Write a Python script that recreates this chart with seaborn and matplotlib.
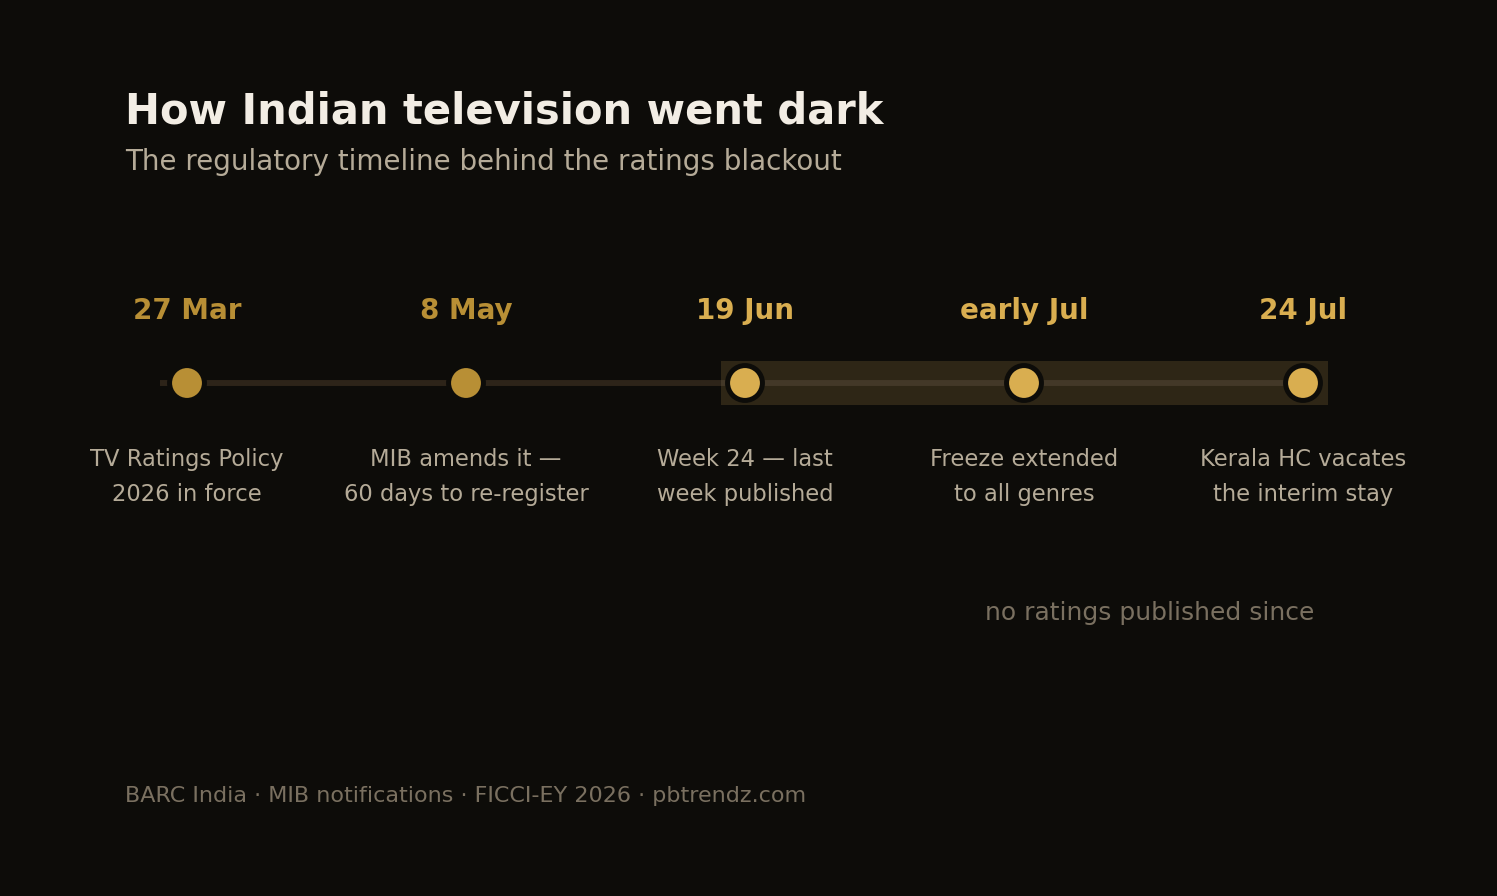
import matplotlib
matplotlib.use('Agg')
import matplotlib.pyplot as plt
import seaborn as sns
import pandas as pd

# %% Data
dates = ['27 Mar', '8 May', '19 Jun', 'early Jul', '24 Jul']
events = ['TV Ratings Policy\n2026 in force',
          'MIB amends it —\n60 days to re-register',
          'Week 24 — last\nweek published',
          'Freeze extended\nto all genres',
          'Kerala HC vacates\nthe interim stay']
phase = ['before', 'before', 'blackout', 'blackout', 'blackout']

df = pd.DataFrame({'pos': range(len(dates)), 'date': dates, 'event': events, 'phase': phase})
df['y'] = 383

BG = '#0d0c09'
GOLD_DIM = '#b88f35'
GOLD = '#d9ae50'
palette = {'before': GOLD_DIM, 'blackout': GOLD}

sns.set_theme(style='white')
plt.rcParams['font.family'] = ['DejaVu Sans']

fig = plt.figure(figsize=(14.97, 8.96), dpi=100, facecolor=BG)
ax = fig.add_axes([0, 0, 1, 1])
ax.set_facecolor(BG)
step = 279.0  # px per event
ax.set_xlim(-187 / step, (1497 - 187) / step)
ax.set_ylim(896, 0)
ax.axis('off')

# shaded blackout band from the last published week onward
band_l, band_r = 2 - 24 / step, 4 + 25 / step
ax.fill_between([band_l, band_r], 361, 405, color='#2e2616', lw=0, zorder=1)

# timeline spine
ax.plot([-27 / step, band_l], [383, 383], color='#2d2419', lw=4.3, solid_capstyle='butt', zorder=2)
ax.plot([band_l, band_r - 25 / step], [383, 383], color='#433828', lw=4.3, solid_capstyle='butt', zorder=2)

# event dots
sns.scatterplot(data=df, x='pos', y='y', hue='phase', palette=palette, s=630,
                edgecolor=BG, linewidth=3.6, legend=False, ax=ax, zorder=3)

for _, r in df.iterrows():
    c = palette[r['phase']]
    ax.text(r['pos'], 311, r['date'], ha='center', va='center', fontsize=20,
            fontweight='bold', color=c)
    ax.text(r['pos'], 477, r['event'], ha='center', va='center', fontsize=16.3,
            color='#b5ab98', linespacing=1.72)

ax.text(3.452, 613, 'no ratings published since', ha='center', va='center',
        fontsize=18, color='#7a7060')

fig.text(125 / 1497, 1 - 111 / 896, 'How Indian television went dark', fontsize=30,
         fontweight='bold', color='#f2ede4', ha='left', va='center')
fig.text(125 / 1497, 1 - 162 / 896, 'The regulatory timeline behind the ratings blackout',
         fontsize=20, color='#b5ab98', ha='left', va='center')
fig.text(125 / 1497, 1 - 796 / 896, 'BARC India · MIB notifications · FICCI-EY 2026 · pbtrendz.com',
         fontsize=16, color='#7a7060', ha='left', va='center')

fig.savefig('out.png', dpi=100, facecolor=BG)
